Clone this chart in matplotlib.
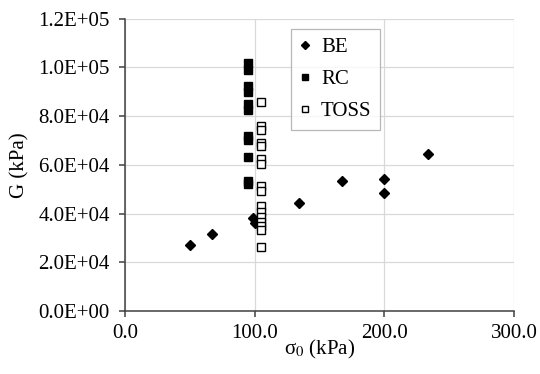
import matplotlib
matplotlib.use("Agg")
import matplotlib.pyplot as plt
from matplotlib.ticker import FuncFormatter, MultipleLocator

plt.rcParams["font.family"] = ["Liberation Serif", "DejaVu Serif"]
plt.rcParams["mathtext.fontset"] = "stix"

# =========================
# DATA
# =========================
be_sigma = [50, 67, 99, 100, 134, 167, 200, 200, 234]
be_g = [27000, 31600, 38300, 36000, 44300, 53500, 54000, 48300, 64500]

rc_sigma = [95, 95, 95, 95, 95, 95, 95, 95, 95, 95, 95]
rc_g = [101800, 98900, 92200, 90100, 84800, 82600, 71800, 70300, 63100, 53500, 52200]

toss_sigma = [105] * 16
toss_g = [85600, 76100, 74500, 69100, 67600, 62400, 60400, 51500, 49400,
          43100, 40800, 38800, 36700, 34700, 33300, 26300]

AXIS_COLOR = "#404040"
GRID_COLOR = "#d9d9d9"
FS = 15

fig = plt.figure(figsize=(5.4, 3.74), dpi=100)
ax = fig.add_axes([0.2315, 0.1684, 0.7204, 0.7816])

ax.plot(be_sigma, be_g, ls="none", marker="D", ms=5.5, color="black", label="BE", zorder=3)
ax.plot(rc_sigma, rc_g, ls="none", marker="s", ms=6.0, color="black", label="RC", zorder=3)
ax.plot(toss_sigma, toss_g, ls="none", marker="s", ms=6.0, mfc="white", mec="black",
        mew=1.0, label="TOSS", zorder=3)

ax.set_xlim(0, 300)
ax.set_ylim(0, 120000)
ax.xaxis.set_major_locator(MultipleLocator(100))
ax.yaxis.set_major_locator(MultipleLocator(20000))
ax.xaxis.set_major_formatter(FuncFormatter(lambda v, p: f"{v:.1f}"))
ax.yaxis.set_major_formatter(FuncFormatter(lambda v, p: f"{v:.1E}"))

ax.grid(True, color=GRID_COLOR, lw=0.9)
ax.set_axisbelow(True)
for side in ("top", "right"):
    ax.spines[side].set_visible(False)
for side in ("left", "bottom"):
    ax.spines[side].set_color(AXIS_COLOR)
    ax.spines[side].set_linewidth(1.1)

ax.tick_params(axis="both", direction="out", length=4, width=1.1, color=AXIS_COLOR,
               labelsize=FS, labelcolor="black")
ax.tick_params(axis="y", pad=7)
ax.tick_params(axis="x", pad=5)

ax.set_xlabel(r"σ$_0$ (kPa)", fontsize=FS, labelpad=-3)
ax.set_ylabel("G (kPa)", fontsize=FS, labelpad=6)

leg = ax.legend(loc="upper left", bbox_to_anchor=(0.426, 0.964), borderaxespad=0,
                fontsize=FS, frameon=True, fancybox=False, edgecolor="#a6a6a6",
                handlelength=0.6, handletextpad=0.45, labelspacing=0.6,
                borderpad=0.4, markerscale=0.8)
leg.get_frame().set_linewidth(0.9)

fig.savefig("out.png", dpi=100)
